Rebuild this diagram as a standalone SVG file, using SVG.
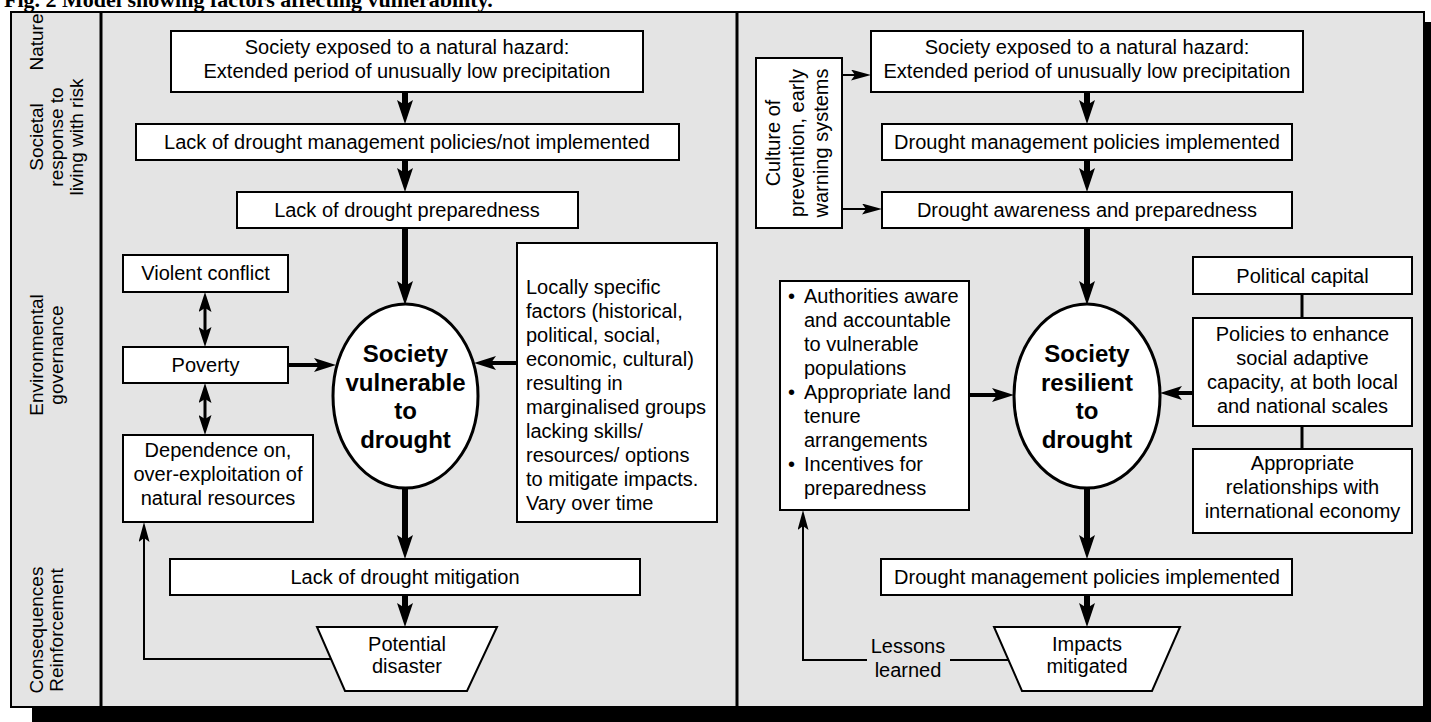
<svg xmlns="http://www.w3.org/2000/svg" width="1431" height="722" viewBox="0 0 1431 722">
<style>
.box{fill:#fff;stroke:#000;stroke-width:2}
.t{font-family:"Liberation Sans",Arial,sans-serif;font-size:20px;fill:#000}
.c{text-anchor:middle}
.b{font-weight:bold;font-size:24px}
.lab{font-size:19px}
.ttl{font-family:"Liberation Serif","Times New Roman",serif;font-weight:bold;font-size:22px}
.k{stroke:#000;fill:none}
.w6{stroke-width:6}
.w4{stroke-width:4}
.w3{stroke-width:3}
.w2{stroke-width:2}
</style>
<defs>
<marker id="big" viewBox="0 0 24 16" refX="5" refY="8" markerWidth="24" markerHeight="16" markerUnits="userSpaceOnUse" orient="auto"><path d="M0,0 L24,8 L0,16 L5,8 z" fill="#000"/></marker>
<marker id="med" viewBox="0 0 22 14" refX="5" refY="7" markerWidth="22" markerHeight="14" markerUnits="userSpaceOnUse" orient="auto"><path d="M0,0 L22,7 L0,14 L5,7 z" fill="#000"/></marker>
<marker id="dbl" viewBox="0 0 20 13" refX="4" refY="6.5" markerWidth="20" markerHeight="13" markerUnits="userSpaceOnUse" orient="auto-start-reverse"><path d="M0,0 L20,6.5 L0,13 L4,6.5 z" fill="#000"/></marker>
<marker id="thin" viewBox="0 0 20 11" refX="4" refY="5.5" markerWidth="20" markerHeight="11" markerUnits="userSpaceOnUse" orient="auto"><path d="M0,0 L20,5.5 L0,11 L4,5.5 z" fill="#000"/></marker>
</defs>
<rect width="1431" height="722" fill="#fff"/>
<text class="ttl" x="4" y="7">Fig. 2 Model showing factors affecting vulnerability.</text>
<g id="frame">
<rect x="32" y="22" width="1420" height="720" fill="#000"/>
<rect x="11" y="12" width="1413" height="695" fill="#e4e4e4" stroke="#000" stroke-width="2"/>
<line x1="101" y1="12" x2="101" y2="707" class="k w3"/>
<line x1="737" y1="12" x2="737" y2="707" class="k w3"/>
</g>
<g id="labels" class="t lab c">
<text transform="translate(43,42) rotate(-90)">Nature</text>
<text transform="translate(43,137) rotate(-90)">Societal</text>
<text transform="translate(63,137) rotate(-90)">response to</text>
<text transform="translate(83,137) rotate(-90)">living with risk</text>
<text transform="translate(43,355) rotate(-90)">Environmental</text>
<text transform="translate(63,355) rotate(-90)">governance</text>
<text transform="translate(43,630) rotate(-90)">Consequences</text>
<text transform="translate(63,630) rotate(-90)">Reinforcement</text>
</g>
<g id="connectors">
<line x1="405" y1="92" x2="405" y2="105" class="k w6" marker-end="url(#big)"/>
<line x1="405" y1="160" x2="405" y2="173" class="k w6" marker-end="url(#big)"/>
<line x1="405" y1="228" x2="405" y2="286" class="k w6" marker-end="url(#big)"/>
<line x1="405" y1="488" x2="405" y2="540" class="k w6" marker-end="url(#big)"/>
<line x1="405" y1="595" x2="405" y2="608" class="k w6" marker-end="url(#big)"/>
<line x1="288" y1="365" x2="319" y2="365" class="k w4" marker-end="url(#med)"/>
<line x1="517" y1="363" x2="491" y2="363" class="k w4" marker-end="url(#med)"/>
<line x1="205" y1="308" x2="205" y2="331" class="k w3" marker-start="url(#dbl)" marker-end="url(#dbl)"/>
<line x1="205" y1="399" x2="205" y2="419" class="k w3" marker-start="url(#dbl)" marker-end="url(#dbl)"/>
<path d="M331,659 H144 V538" class="k w2" marker-end="url(#thin)"/>
<line x1="1087" y1="92" x2="1087" y2="105" class="k w6" marker-end="url(#big)"/>
<line x1="1087" y1="160" x2="1087" y2="173" class="k w6" marker-end="url(#big)"/>
<line x1="1087" y1="228" x2="1087" y2="286" class="k w6" marker-end="url(#big)"/>
<line x1="1087" y1="488" x2="1087" y2="540" class="k w6" marker-end="url(#big)"/>
<line x1="1087" y1="595" x2="1087" y2="608" class="k w6" marker-end="url(#big)"/>
<line x1="842" y1="209" x2="866" y2="209" class="k w2" marker-end="url(#thin)"/>
<line x1="842" y1="75" x2="855" y2="75" class="k w2" marker-end="url(#thin)"/>
<line x1="969" y1="395" x2="997" y2="395" class="k w4" marker-end="url(#med)"/>
<line x1="1193" y1="393" x2="1177" y2="393" class="k w4" marker-end="url(#med)"/>
<line x1="1302" y1="294" x2="1302" y2="318" class="k w3"/>
<line x1="1302" y1="426" x2="1302" y2="449" class="k w3"/>
<path d="M1008,660 H950" class="k w2"/>
<path d="M867,660 H803 V526" class="k w2" marker-end="url(#thin)"/>
</g>
<g id="n-hazard-l"><rect x="171" y="31" width="472" height="61" class="box"/><text class="t c" x="407" y="54">Society exposed to a natural hazard:</text><text class="t c" x="407" y="78">Extended period of unusually low precipitation</text></g>
<g id="n-nopolicy"><rect x="136" y="124" width="543" height="36" class="box"/><text class="t c" x="407" y="149">Lack of drought management policies/not implemented</text></g>
<g id="n-noprep"><rect x="237" y="192" width="341" height="36" class="box"/><text class="t c" x="407" y="217">Lack of drought preparedness</text></g>
<g id="n-vulnerable"><ellipse cx="405.5" cy="396" rx="72.5" ry="92" fill="#fff" stroke="#000" stroke-width="3"/><text class="t b c" x="405.5" y="362">Society</text><text class="t b c" x="405.5" y="390.5">vulnerable</text><text class="t b c" x="405.5" y="419">to</text><text class="t b c" x="405.5" y="447.5">drought</text></g>
<g id="n-conflict"><rect x="123" y="255" width="165" height="37" class="box"/><text class="t c" x="205.5" y="280">Violent conflict</text></g>
<g id="n-poverty"><rect x="123" y="347" width="165" height="36" class="box"/><text class="t c" x="205.5" y="372">Poverty</text></g>
<g id="n-dependence"><rect x="123" y="435" width="190" height="87" class="box"/><text class="t c" x="218" y="457">Dependence on,</text><text class="t c" x="218" y="481">over-exploitation of</text><text class="t c" x="218" y="505">natural resources</text></g>
<g id="n-local"><rect x="517" y="243" width="200" height="279" class="box"/>
<text class="t" x="526" y="294">Locally specific</text><text class="t" x="526" y="318">factors (historical,</text><text class="t" x="526" y="342">political, social,</text><text class="t" x="526" y="366">economic, cultural)</text><text class="t" x="526" y="390">resulting in</text><text class="t" x="526" y="414">marginalised groups</text><text class="t" x="526" y="438">lacking skills/</text><text class="t" x="526" y="462">resources/ options</text><text class="t" x="526" y="486">to mitigate impacts.</text><text class="t" x="526" y="510">Vary over time</text></g>
<g id="n-nomitigation"><rect x="170" y="559" width="470" height="36" class="box"/><text class="t c" x="405" y="584">Lack of drought mitigation</text></g>
<g id="n-disaster"><polygon points="317,627 497,627 467,691 345,691" class="box"/><text class="t c" x="407" y="651">Potential</text><text class="t c" x="407" y="673">disaster</text></g>
<g id="n-hazard-r"><rect x="871" y="31" width="432" height="61" class="box"/><text class="t c" x="1087" y="54">Society exposed to a natural hazard:</text><text class="t c" x="1087" y="78">Extended period of unusually low precipitation</text></g>
<g id="n-policy"><rect x="882" y="124" width="410" height="36" class="box"/><text class="t c" x="1087" y="149">Drought management policies implemented</text></g>
<g id="n-prep"><rect x="882" y="192" width="410" height="36" class="box"/><text class="t c" x="1087" y="217">Drought awareness and preparedness</text></g>
<g id="n-culture"><rect x="756" y="58" width="86" height="170" class="box"/><text class="t c" transform="translate(780,143) rotate(-90)">Culture of</text><text class="t c" transform="translate(804,143) rotate(-90)">prevention, early</text><text class="t c" transform="translate(828,143) rotate(-90)">warning systems</text></g>
<g id="n-resilient"><ellipse cx="1087" cy="396" rx="73" ry="92" fill="#fff" stroke="#000" stroke-width="3"/><text class="t b c" x="1087" y="362">Society</text><text class="t b c" x="1087" y="390.5">resilient</text><text class="t b c" x="1087" y="419">to</text><text class="t b c" x="1087" y="447.5">drought</text></g>
<g id="n-authorities"><rect x="780" y="281" width="189" height="229" class="box"/>
<text class="t" x="788" y="303">•</text><text class="t" x="804" y="303">Authorities aware</text><text class="t" x="804" y="327">and accountable</text><text class="t" x="804" y="351">to vulnerable</text><text class="t" x="804" y="375">populations</text>
<text class="t" x="788" y="399">•</text><text class="t" x="804" y="399">Appropriate land</text><text class="t" x="804" y="423">tenure</text><text class="t" x="804" y="447">arrangements</text>
<text class="t" x="788" y="471">•</text><text class="t" x="804" y="471">Incentives for</text><text class="t" x="804" y="495">preparedness</text></g>
<g id="n-capital"><rect x="1193" y="257" width="219" height="37" class="box"/><text class="t c" x="1302.5" y="283">Political capital</text></g>
<g id="n-adaptive"><rect x="1193" y="318" width="219" height="108" class="box"/><text class="t c" x="1302.5" y="341">Policies to enhance</text><text class="t c" x="1302.5" y="365">social adaptive</text><text class="t c" x="1302.5" y="389">capacity, at both local</text><text class="t c" x="1302.5" y="413">and national scales</text></g>
<g id="n-economy"><rect x="1193" y="449" width="219" height="84" class="box"/><text class="t c" x="1302.5" y="470">Appropriate</text><text class="t c" x="1302.5" y="494">relationships with</text><text class="t c" x="1302.5" y="518">international economy</text></g>
<g id="n-policy2"><rect x="881" y="559" width="411" height="36" class="box"/><text class="t c" x="1087" y="584">Drought management policies implemented</text></g>
<g id="n-mitigated"><polygon points="994,627 1180,627 1152,691 1022,691" class="box"/><text class="t c" x="1087" y="651">Impacts</text><text class="t c" x="1087" y="673">mitigated</text></g>
<g id="lbl-lessons"><text class="t c" x="908" y="653">Lessons</text><text class="t c" x="908" y="677">learned</text></g>
</svg>
